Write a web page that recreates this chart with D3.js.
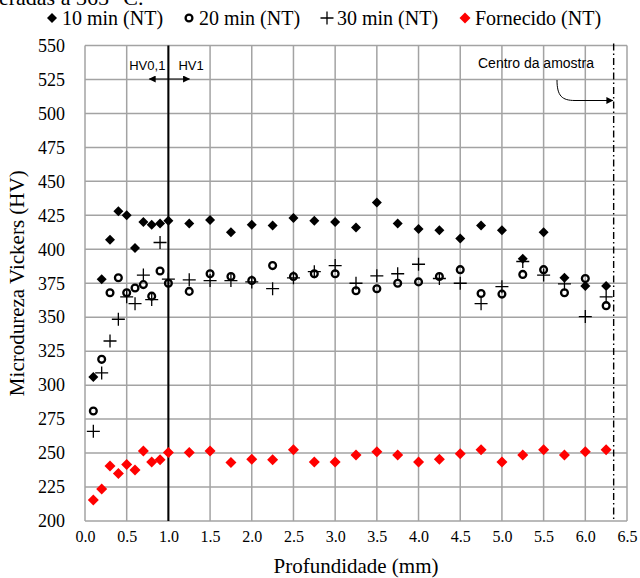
<!DOCTYPE html>
<html>
<head>
<meta charset="utf-8">
<script src="https://cdn.jsdelivr.net/npm/d3@7"></script>
<style>
  html, body { margin: 0; padding: 0; background: #fff; }
  svg { display: block; }
</style>
</head>
<body>
<svg id="chart" width="640" height="578"></svg>
<script>
// Depth of each indentation (mm)
const depth = [0.1, 0.2, 0.3, 0.4, 0.5, 0.6, 0.7, 0.8, 0.9, 1.0, 1.25, 1.5, 1.75, 2.0, 2.25,
  2.5, 2.75, 3.0, 3.25, 3.5, 3.75, 4.0, 4.25, 4.5, 4.75, 5.0, 5.25, 5.5, 5.75, 6.0, 6.25];

// Vickers microhardness (HV) per condition
const hv10min = [306, 378, 407, 428, 425, 401, 420, 418, 419, 421, 419, 421.5, 412.5, 418, 417.5,
  423, 421, 420, 416, 434.5, 419, 415, 414, 408, 417.5, 414, 393, 412.5, 379, 373, 373];
const hv20min = [281, 319, 368, 379, 368, 371.5, 374, 365.5, 384, 375, 369, 382, 380, 377, 388,
  380, 382, 382, 369.5, 371, 375, 376, 380, 385, 367.5, 367, 381.5, 385, 368, 378.5, 358.5];
const hv30min = [266, 309, 332.5, 348.5, 365, 360, 381, 363, 405, 378, 377.5, 377, 377, 376, 371,
  379, 383.5, 388, 375, 380.5, 382, 389, 378.5, 375, 360, 372.5, 391, 381, 374.5, 350.5, 365];
const hvFornecido = [215.5, 223.5, 240.5, 235, 241.5, 237.5, 251.5, 243.5, 245, 250.5, 250.5, 251.5, 243, 245.5, 245,
  252.5, 243.5, 243.5, 248.5, 251, 248.5, 243.5, 245.5, 249.5, 252.5, 243.5, 248.5, 252.5, 248.5, 251, 252.5];

const seriesNames = ["10 min (NT)", "20 min (NT)", "30 min (NT)", "Fornecido (NT)"];
const xTicks = [0.0, 0.5, 1.0, 1.5, 2.0, 2.5, 3.0, 3.5, 4.0, 4.5, 5.0, 5.5, 6.0, 6.5];
const yTicks = [200, 225, 250, 275, 300, 325, 350, 375, 400, 425, 450, 475, 500, 525, 550];
const xDomain = [0, 6.5];
const yDomain = [200, 550];
const hvLimit = 1.0;        // HV0,1 / HV1 boundary (mm)
const centroAmostra = 6.34; // sample centre (mm)

const svg = d3.select("#chart");
const serif = "'Liberation Serif', 'Times New Roman', serif";
const sans = "'Liberation Sans', Arial, sans-serif";

const plot = { left: 85, right: 627, top: 45.5, bottom: 521 };
const x = d3.scaleLinear().domain(xDomain).range([plot.left, plot.right]);
const y = d3.scaleLinear().domain(yDomain).range([plot.bottom, plot.top]);

const gridColor = "#a3a3a3";

// Caption line above the chart (partly out of frame)
svg.append("text")
  .attr("x", -1).attr("y", 5)
  .attr("font-family", serif).attr("font-size", 22)
  .text("eradas a 365 °C.");

// Gridlines
const grid = svg.append("g");
grid.selectAll("line.h").data(yTicks).join("line")
  .attr("x1", plot.left).attr("x2", plot.right)
  .attr("y1", d => y(d)).attr("y2", d => y(d))
  .attr("stroke", gridColor).attr("stroke-width", 1.5);
grid.selectAll("line.v").data(xTicks).join("line")
  .attr("y1", plot.top).attr("y2", plot.bottom)
  .attr("x1", d => x(d)).attr("x2", d => x(d))
  .attr("stroke", gridColor).attr("stroke-width", 1.5);

// Axes (labels only)
const yAxis = svg.append("g")
  .attr("transform", `translate(${plot.left},0)`)
  .call(d3.axisLeft(y).tickValues(yTicks).tickSize(0).tickPadding(20).tickFormat(d3.format("d")));
yAxis.select(".domain").remove();
yAxis.selectAll("text").attr("font-family", serif).attr("font-size", 18).attr("fill", "#000");

const xAxis = svg.append("g")
  .attr("transform", `translate(0,${plot.bottom})`)
  .call(d3.axisBottom(x).tickValues(xTicks).tickSize(0).tickPadding(10).tickFormat(d3.format(".1f")));
xAxis.select(".domain").remove();
xAxis.selectAll("text").attr("font-family", serif).attr("font-size", 16).attr("fill", "#000");

// Axis titles
svg.append("text")
  .attr("transform", `translate(24,${(plot.top + plot.bottom) / 2}) rotate(-90)`)
  .attr("text-anchor", "middle")
  .attr("font-family", serif).attr("font-size", 21)
  .text("Microdureza Vickers (HV)");
svg.append("text")
  .attr("x", (plot.left + plot.right) / 2).attr("y", 573)
  .attr("text-anchor", "middle")
  .attr("font-family", serif).attr("font-size", 21)
  .text("Profundidade (mm)");

// Reference lines
svg.append("line")
  .attr("x1", x(hvLimit)).attr("x2", x(hvLimit))
  .attr("y1", plot.top).attr("y2", plot.bottom)
  .attr("stroke", "#000").attr("stroke-width", 2);
svg.append("line")
  .attr("x1", x(centroAmostra)).attr("x2", x(centroAmostra))
  .attr("y1", plot.top - 2).attr("y2", plot.bottom)
  .attr("stroke", "#000").attr("stroke-width", 1.4)
  .attr("stroke-dasharray", "7,3,1.5,3");

// Arrowheads
const defs = svg.append("defs");
defs.append("marker").attr("id", "arrow")
  .attr("viewBox", "0 0 10 10").attr("refX", 9).attr("refY", 5)
  .attr("markerWidth", 9).attr("markerHeight", 7).attr("markerUnits", "userSpaceOnUse")
  .attr("orient", "auto-start-reverse")
  .append("path").attr("d", "M0,0 L10,5 L0,10 Z").attr("fill", "#000");

// HV0,1 | HV1 annotation
svg.append("text").attr("x", x(hvLimit) - 3).attr("y", 70)
  .attr("text-anchor", "end").attr("font-family", sans).attr("font-size", 13)
  .text("HV0,1");
svg.append("text").attr("x", x(hvLimit) + 10).attr("y", 70)
  .attr("font-family", sans).attr("font-size", 13)
  .text("HV1");
svg.append("line")
  .attr("x1", x(hvLimit) - 19).attr("x2", x(hvLimit) + 21)
  .attr("y1", 79).attr("y2", 79)
  .attr("stroke", "#000").attr("stroke-width", 1.2)
  .attr("marker-start", "url(#arrow)").attr("marker-end", "url(#arrow)");

// Sample centre annotation
svg.append("text").attr("x", 478).attr("y", 68)
  .attr("font-family", sans).attr("font-size", 14)
  .text("Centro da amostra");
const cx0 = x(centroAmostra);
svg.append("path")
  .attr("d", `M557,80 C557,96 562,100.5 575,100.5 L${cx0 - 1},100.5`)
  .attr("fill", "none").attr("stroke", "#000").attr("stroke-width", 1)
  .attr("marker-end", "url(#arrow)");

// Marker shapes
const diamond = s => `M0,${-s} L${s},0 L0,${s} L${-s},0 Z`;
const pts = arr => depth.map((d, i) => ({ d, v: arr[i] }));

function drawDiamonds(data, s, fill) {
  svg.append("g").selectAll("path").data(data).join("path")
    .attr("transform", p => `translate(${x(p.d)},${y(p.v)})`)
    .attr("d", diamond(s)).attr("fill", fill);
}
function drawCircles(data) {
  svg.append("g").selectAll("circle").data(data).join("circle")
    .attr("cx", p => x(p.d)).attr("cy", p => y(p.v)).attr("r", 3.4)
    .attr("fill", "none").attr("stroke", "#000").attr("stroke-width", 2.3);
}
function drawPlus(data) {
  svg.append("g").selectAll("path").data(data).join("path")
    .attr("transform", p => `translate(${x(p.d)},${y(p.v)})`)
    .attr("d", "M-6.5,0 H6.5 M0,-6.5 V6.5")
    .attr("stroke", "#000").attr("stroke-width", 1.3).attr("fill", "none");
}

drawDiamonds(pts(hv10min), 5, "#000");
drawCircles(pts(hv20min));
drawPlus(pts(hv30min));
drawDiamonds(pts(hvFornecido), 5.5, "#ff0000");

// Legend
const legend = svg.append("g");
const legendX = [52, 189, 327, 465];
const legendY = 18;
legend.append("path").attr("transform", `translate(${legendX[0]},${legendY})`).attr("d", diamond(5)).attr("fill", "#000");
legend.append("circle").attr("cx", legendX[1]).attr("cy", legendY).attr("r", 3.4)
  .attr("fill", "none").attr("stroke", "#000").attr("stroke-width", 2.3);
legend.append("path").attr("transform", `translate(${legendX[2]},${legendY})`)
  .attr("d", "M-6.5,0 H6.5 M0,-6.5 V6.5").attr("stroke", "#000").attr("stroke-width", 1.3);
legend.append("path").attr("transform", `translate(${legendX[3]},${legendY})`).attr("d", diamond(5.5)).attr("fill", "#ff0000");
legend.selectAll("text").data(seriesNames).join("text")
  .attr("x", (d, i) => legendX[i] + 10).attr("y", 25)
  .attr("font-family", serif).attr("font-size", 20)
  .text(d => d);
</script>
</body>
</html>
